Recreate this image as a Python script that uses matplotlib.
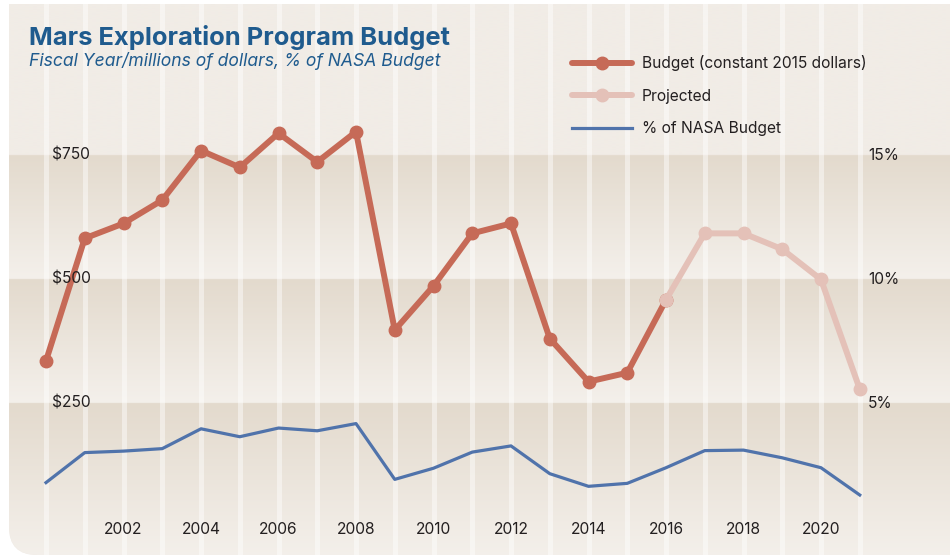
import numpy as np
import matplotlib
matplotlib.use("Agg")
import matplotlib.pyplot as plt
from matplotlib.path import Path
from matplotlib.patches import PathPatch
from matplotlib.colors import to_rgb

plt.rcParams['font.family'] = ['Inter', 'DejaVu Sans']

# data
years = list(range(2000, 2022))
budget = [335, 582, 612, 659, 759, 725, 794, 736, 797, 397, 486,
          592, 612, 380, 293, 311, 458]                 # 2000-2016
projected_years = list(range(2016, 2022))
projected = [458, 592, 592, 560, 499, 278]               # 2016-2021
pct_nasa = [1.79, 3.00, 3.06, 3.16, 3.96, 3.64, 3.99, 3.88, 4.17, 1.92, 2.37,
            3.02, 3.27, 2.15, 1.64, 1.76, 2.39, 3.08, 3.10, 2.79, 2.39, 1.29]
budget_ticks = [250, 500, 750]
budget_labels = ["$250", "$500", "$750"]
pct_ticks = [5, 10, 15]
pct_labels = ["5%", "10%", "15%"]
year_ticks = list(range(2002, 2021, 2))

RED = "#c66a57"
PINK = "#e4c1b8"
BLUE = "#5073ab"
TITLE_BLUE = "#1f5b8e"
TEXT = "#231f20"
BG_TOP = "#f1ece6"
BAND_DARK = "#e3dacd"
BAND_LIGHT = "#f4f0eb"

W, H = 950, 557
fig = plt.figure(figsize=(W / 100, H / 100), dpi=100, facecolor="white")
ax = fig.add_axes([0, 0, 1, 1])
ax.axis("off")

# pixel layout: year 2000 at x=46, 38.75 px per year; $250 at y=403, 124 px per $250
px_year = 38.75
xlim = (2000 - 46 / px_year, 2000 + (W - 46) / px_year)
px_val = 124 / 250
ylim = (250 - (H - 403) / px_val, 250 + 403 / px_val)
ax.set_xlim(*xlim)
ax.set_ylim(*ylim)

# panel shape, only bottom-left corner rounded (inches)
l, b, t, r, rad = 9 / 100, 2 / 100, (H - 4) / 100, 10.0, 0.28
panel_path = Path([(l, t), (l, b + rad), (l, b), (l + rad, b), (r, b), (r, t), (l, t)],
                  [Path.MOVETO, Path.LINETO, Path.CURVE3, Path.CURVE3,
                   Path.LINETO, Path.LINETO, Path.CLOSEPOLY])
panel = PathPatch(panel_path, transform=fig.dpi_scale_trans, facecolor=BG_TOP,
                  edgecolor="none", zorder=0)
ax.add_patch(panel)

# gradient bands below each budget tick
vals = np.linspace(ylim[1], ylim[0], 1200)
dark, light, top = np.array(to_rgb(BAND_DARK)), np.array(to_rgb(BAND_LIGHT)), np.array(to_rgb(BG_TOP))
edges = sorted(budget_ticks + [ylim[0]], reverse=True)
img = np.tile(top, (len(vals), 1))
for hi, lo in zip(edges[:-1], edges[1:]):
    m = (vals <= hi) & (vals > lo)
    f = ((hi - vals[m]) / (hi - lo))[:, None]
    img[m] = dark * (1 - f) + light * f
img[vals <= edges[-1]] = light
im = ax.imshow(img[:, None, :], extent=[xlim[0], xlim[1], ylim[0], ylim[1]],
               aspect="auto", interpolation="bilinear", zorder=1)
im.set_clip_path(panel)

# light vertical stripes at each year
for yr in years:
    ln = ax.axvline(yr, color="white", alpha=0.45, lw=3.6, zorder=2)
    ln.set_clip_path(panel)

# series
ax.plot(years[:len(budget)], budget, color=RED, lw=4.3, marker="o", ms=9,
        solid_capstyle="round", zorder=5, label="Budget (constant 2015 dollars)")
ax.plot(projected_years, projected, color=PINK, lw=4.3, marker="o", ms=9,
        solid_capstyle="round", zorder=6, label="Projected")
ax2 = ax.twinx()
ax2.axis("off")
ax2.set_ylim(ylim[0] / 50, ylim[1] / 50)
ax2.plot(years, pct_nasa, color=BLUE, lw=2.3, zorder=4, label="% of NASA Budget")

# axis labels
FS = 11.2
lab = dict(fontsize=FS, color=TEXT, va="center", ha="left")
for v, s in zip(budget_ticks, budget_labels):
    ax.text(52 / W, v, s, transform=ax.get_yaxis_transform(which="grid"), zorder=7, **lab)
for p, s in zip(pct_ticks, pct_labels):
    ax2.text(868 / W, p, s, transform=ax2.get_yaxis_transform(which="grid"), zorder=7, **lab)
for yr in year_ticks:
    ax.text(yr, 1 - 530 / H, str(yr), transform=ax.get_xaxis_transform(),
            fontsize=FS, color=TEXT, ha="center", va="center", zorder=7)

# titles
fig.text(29 / W, 1 - 44.5 / H, "Mars Exploration Program Budget", fontsize=18.4,
         fontweight="bold", color=TITLE_BLUE, va="baseline", ha="left")
fig.text(29 / W, 1 - 66.5 / H, "Fiscal Year/millions of dollars, % of NASA Budget",
         fontsize=12.6, style="italic", color=TITLE_BLUE, va="baseline", ha="left")

# legend
h1, l1 = ax.get_legend_handles_labels()
h2, l2 = ax2.get_legend_handles_labels()
leg = ax2.legend(h1 + h2, l1 + l2, loc="upper left", bbox_to_anchor=(572 / W, 1 - 55 / H),
                 frameon=False, fontsize=FS, handlelength=3.85, handletextpad=0.62,
                 labelspacing=1.13, borderpad=0, borderaxespad=0, numpoints=1)
for txt in leg.get_texts():
    txt.set_color(TEXT)

fig.savefig("out.png", dpi=100, facecolor="white")
